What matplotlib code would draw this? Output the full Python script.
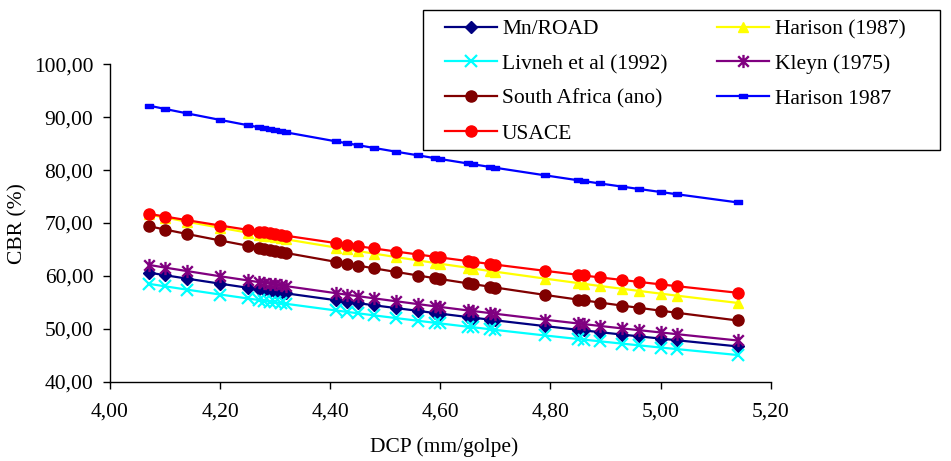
import matplotlib
matplotlib.use('Agg')
import matplotlib.pyplot as plt
from matplotlib.path import Path
from matplotlib.patches import Rectangle
from matplotlib.ticker import FuncFormatter, MultipleLocator

# ---- data ----
dcp = [4.07, 4.10, 4.14, 4.20, 4.25, 4.27, 4.28, 4.29, 4.30, 4.31, 4.32,
       4.41, 4.43, 4.45, 4.48, 4.52, 4.56, 4.59, 4.60, 4.65, 4.66, 4.69,
       4.70, 4.79, 4.85, 4.86, 4.89, 4.93, 4.96, 5.00, 5.03, 5.14]

mn_road = [60.63, 60.13, 59.48, 58.53, 57.76, 57.45, 57.30, 57.15, 57.01, 56.86, 56.70,
           55.41, 55.13, 54.86, 54.44, 53.91, 53.38, 52.98, 52.86, 52.22, 52.10, 51.73,
           51.60, 50.51, 49.81, 49.70, 49.36, 48.91, 48.58, 48.15, 47.83, 46.67]

harison_a = [71.62, 71.03, 70.24, 69.10, 68.18, 67.81, 67.63, 67.45, 67.28, 67.09, 66.91,
             65.36, 65.02, 64.70, 64.21, 63.55, 62.92, 62.45, 62.29, 61.54, 61.37, 60.93,
             60.79, 59.49, 58.65, 58.51, 58.09, 57.57, 57.17, 56.65, 56.26, 54.89]

livneh = [58.51, 58.03, 57.40, 56.48, 55.74, 55.44, 55.29, 55.15, 55.01, 54.87, 54.72,
          53.47, 53.20, 52.94, 52.53, 52.02, 51.51, 51.13, 51.01, 50.39, 50.28, 49.92,
          49.79, 48.74, 48.07, 47.96, 47.63, 47.20, 46.88, 46.46, 46.16, 45.04]

kleyn = [62.09, 61.57, 60.91, 59.93, 59.15, 58.83, 58.68, 58.52, 58.38, 58.22, 58.06,
         56.74, 56.45, 56.18, 55.75, 55.20, 54.66, 54.25, 54.13, 53.47, 53.35, 52.97,
         52.84, 51.72, 51.01, 50.89, 50.54, 50.08, 49.75, 49.31, 48.98, 47.79]

south_africa = [69.41, 68.76, 67.92, 66.70, 65.70, 65.29, 65.10, 64.91, 64.73, 64.52, 64.33,
                62.66, 62.31, 61.96, 61.42, 60.74, 60.07, 59.56, 59.40, 58.59, 58.43, 57.96,
                57.80, 56.41, 55.52, 55.39, 54.95, 54.39, 53.97, 53.43, 53.02, 51.57]

harison_b = [92.20, 91.56, 90.72, 89.49, 88.49, 88.10, 87.90, 87.71, 87.52, 87.33, 87.13,
             85.44, 85.08, 84.72, 84.18, 83.47, 82.78, 82.26, 82.09, 81.25, 81.09, 80.60,
             80.44, 79.01, 78.08, 77.93, 77.47, 76.88, 76.44, 75.86, 75.43, 73.89]

usace = [71.74, 71.22, 70.53, 69.52, 68.71, 68.38, 68.22, 68.07, 67.91, 67.75, 67.59,
         66.21, 65.91, 65.62, 65.18, 64.60, 64.04, 63.62, 63.48, 62.80, 62.66, 62.26,
         62.13, 60.96, 60.21, 60.08, 59.71, 59.23, 58.87, 58.40, 58.05, 56.81]

x_label = "DCP (mm/golpe)"
y_label = "CBR (%)"

# ---- style ----
plt.rcParams['font.family'] = ['Liberation Serif', 'DejaVu Serif']
FS = 15.5

W, H = 951, 461
fig = plt.figure(figsize=(W / 100, H / 100), dpi=100)
ax = fig.add_axes([110 / W, (H - 381.7) / H, 660.7 / W, 317.4 / H])

asterisk = Path([(-1, -1), (1, 1), (-1, 1), (1, -1), (0, -1.25), (0, 1.25)],
                [Path.MOVETO, Path.LINETO, Path.MOVETO, Path.LINETO, Path.MOVETO, Path.LINETO])
dash = Path([(-1, -0.55), (1, -0.55), (1, 0.55), (-1, 0.55), (-1, -0.55)],
            [Path.MOVETO, Path.LINETO, Path.LINETO, Path.LINETO, Path.CLOSEPOLY])

lw = 1.6
h_mn, = ax.plot(dcp, mn_road, color='#000080', lw=lw, marker='D', ms=6.5, label='Mn/ROAD')
h_ha, = ax.plot(dcp, harison_a, color='#FFFF00', lw=lw, marker='^', ms=7.5, label='Harison (1987)')
h_li, = ax.plot(dcp, livneh, color='#00FFFF', lw=lw, marker='x', ms=8, mew=1.6, label='Livneh et al (1992)')
h_kl, = ax.plot(dcp, kleyn, color='#800080', lw=lw, marker=asterisk, ms=9.5, mew=1.7, mfc='none',
                label='Kleyn (1975)')
h_sa, = ax.plot(dcp, south_africa, color='#800000', lw=lw, marker='o', ms=8, label='South Africa (ano)')
h_hb, = ax.plot(dcp, harison_b, color='#0000FF', lw=lw, marker=dash, ms=5.5, label='Harison 1987')
h_us, = ax.plot(dcp, usace, color='#FF0000', lw=lw, marker='o', ms=8, label='USACE')

ax.set_xlim(4.0, 5.2)
ax.set_ylim(40, 100)
ax.xaxis.set_major_locator(MultipleLocator(0.2))
ax.yaxis.set_major_locator(MultipleLocator(10))
fmt = FuncFormatter(lambda v, p: f"{v:.2f}".replace('.', ','))
ax.xaxis.set_major_formatter(fmt)
ax.yaxis.set_major_formatter(fmt)
for s in ('top', 'right'):
    ax.spines[s].set_visible(False)
for s in ('left', 'bottom'):
    ax.spines[s].set_color('black')
    ax.spines[s].set_linewidth(1.0)
ax.tick_params(axis='x', direction='out', length=5, width=1, pad=10, labelsize=FS)
ax.tick_params(axis='y', direction='out', length=5, width=1, pad=7, labelsize=FS)

fig.text(444 / W, 1 - 447 / H, x_label, ha='center', va='center', fontsize=FS)
fig.text(18 / W, 1 - 224 / H, y_label, ha='center', va='center', rotation=90, fontsize=FS)

# legend frame
fig.patches.append(Rectangle((423 / W, 1 - 150 / H), 517 / W, 140 / H, transform=fig.transFigure,
                             fill=True, facecolor='white', edgecolor='black', lw=1.0, zorder=5))
handles = [h_mn, h_li, h_sa, h_us, h_ha, h_kl, h_hb]
leg = fig.legend(handles=handles, labels=[h.get_label() for h in handles], ncol=2,
                 loc='upper left', bbox_to_anchor=(445 / W, 1 - 19 / H), bbox_transform=fig.transFigure,
                 frameon=False, fontsize=FS, handlelength=2.4, handletextpad=0.25,
                 columnspacing=2.32, labelspacing=0.69, borderpad=0, borderaxespad=0)
leg.set_zorder(6)

fig.savefig('out.png', dpi=100)
